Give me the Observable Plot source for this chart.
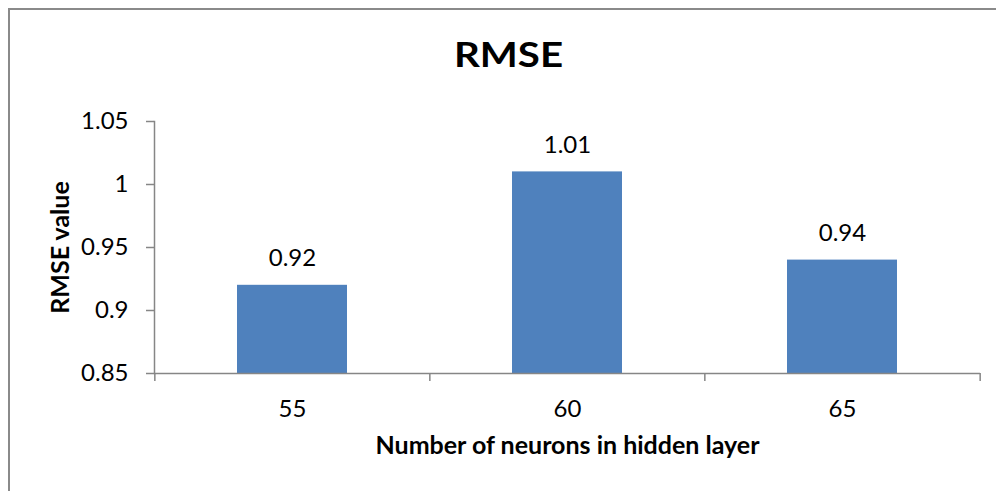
<!DOCTYPE html>
<html>
<head>
<meta charset="utf-8">
<script src="https://cdn.jsdelivr.net/npm/d3@7"></script>
<script src="https://cdn.jsdelivr.net/npm/@observablehq/plot@0.6"></script>
<style>
  body { margin: 0; background: #fff; }
  #chart { position: relative; width: 996px; height: 491px; overflow: hidden; font-family: Lato, "Open Sans", sans-serif; }
  #border { position: absolute; left: 8px; top: 8px; right: -10px; bottom: -10px;
            border-left: 2px solid #8a8a8a; border-top: 2px solid #8a8a8a; }
  #title { position: absolute; left: 0; width: 1016px; top: 36px; text-align: center; }
  #title span { display: inline-block; transform: scaleX(1.15); font-weight: bold;
                font-size: 35px; line-height: 35px; color: #000; }
  #chart svg { position: absolute; left: 0; top: 0; }
</style>
</head>
<body>
<div id="chart">
  <div id="border"></div>
  <div id="title"><span>RMSE</span></div>
</div>
<script>
// Hidden-layer sizes and the RMSE measured for each
const neurons = ["55", "60", "65"];
const rmse = [0.92, 1.01, 0.94];
const yTicks = [0.85, 0.9, 0.95, 1, 1.05];
const xTitle = "Number of neurons in hidden layer";
const yTitle = "RMSE value";

const data = neurons.map((n, i) => ({n, v: rmse[i]}));

const W = 996, H = 491, ML = 154, MR = 16, MT = 121, MB = 118;
const padIn = 0.6, padOut = 0.3;
const step = (W - ML - MR) / (neurons.length - padIn + 2 * padOut);
const axisGrey = "#868686";

const chart = Plot.plot({
  width: W,
  height: H,
  marginLeft: ML,
  marginRight: MR,
  marginTop: MT,
  marginBottom: MB,
  style: {fontFamily: "Lato, 'Open Sans', sans-serif", fontSize: "24px", color: "#000", background: "transparent", overflow: "visible"},
  x: {domain: neurons, paddingInner: padIn, paddingOuter: padOut},
  y: {domain: [0.85, 1.05]},
  marks: [
    Plot.barY(data, {x: "n", y1: 0.85, y2: "v", fill: "#4f81bd"}),
    // axis lines
    Plot.ruleY([0.85], {stroke: axisGrey, strokeWidth: 1.5}),
    Plot.frame({anchor: "left", stroke: axisGrey, strokeWidth: 1.5}),
    // category boundary tick marks below the x axis
    Plot.ruleX(neurons, {x: d => d, dx: -step / 2, y1: 0.85, y2: 0.85, insetBottom: -8, stroke: axisGrey, strokeWidth: 1.5}),
    Plot.ruleX(neurons.slice(-1), {x: d => d, dx: step / 2, y1: 0.85, y2: 0.85, insetBottom: -8, stroke: axisGrey, strokeWidth: 1.5}),
    Plot.axisY({ticks: yTicks, tickFormat: d => String(d), tickSize: 8, tickPadding: 18,
                stroke: axisGrey, strokeWidth: 1.5, label: null, fontSize: 24}),
    Plot.axisX({tickSize: 0, tickPadding: 26, label: null, fontSize: 24}),
    // value labels above the bars
    Plot.text(data, {x: "n", y: "v", text: d => String(d.v), dy: -27, lineAnchor: "middle", fontSize: 24, fill: "#000"}),
    // axis titles
    Plot.text([xTitle], {frameAnchor: "bottom", dy: 72, lineAnchor: "middle", fontSize: 25, fontWeight: "bold", fill: "#000"}),
    Plot.text([yTitle], {frameAnchor: "left", dx: -94, rotate: -90, textAnchor: "middle", lineAnchor: "middle", fontSize: 25, fontWeight: "bold", fill: "#000"})
  ]
});

document.getElementById("chart").appendChild(chart);
</script>
</body>
</html>
